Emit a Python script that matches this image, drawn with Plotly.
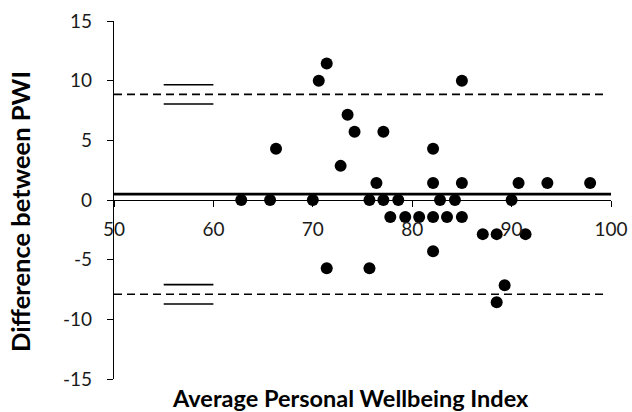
import plotly.graph_objects as go

# Bland-Altman style data
avg_pwi = [62.8, 65.7, 70.0, 75.7, 77.1, 78.6, 82.8, 84.3, 90.0,
           66.3, 70.6, 71.4, 85.0, 73.5, 74.2, 77.1, 82.1, 72.8,
           76.4, 82.1, 85.0, 90.7, 93.6, 97.9,
           77.8, 79.3, 80.7, 82.1, 83.5, 85.0,
           87.1, 88.5, 91.4, 82.1, 71.4, 75.7, 89.3, 88.5]
diff_pwi = [0, 0, 0, 0, 0, 0, 0, 0, 0,
            4.29, 10.0, 11.43, 10.0, 7.14, 5.71, 5.71, 4.29, 2.86,
            1.43, 1.43, 1.43, 1.43, 1.43, 1.43,
            -1.43, -1.43, -1.43, -1.43, -1.43, -1.43,
            -2.86, -2.86, -2.86, -4.29, -5.71, -5.71, -7.14, -8.57]

mean_diff = 0.5
upper_loa = 8.85
lower_loa = -7.9
upper_ci = [9.66, 8.04]
lower_ci = [-7.09, -8.71]
ci_span = [55, 60]
x_range = [50, 100]
y_ticks = [-15, -10, -5, 0, 5, 10, 15]
y_ticktext = ["-15", "-10", "-5", "0", "5", "10", "15"]

fig = go.Figure()

# limits of agreement (dashed)
for v in [upper_loa, lower_loa]:
    fig.add_trace(go.Scatter(x=[50, 99.6], y=[v, v], mode="lines",
                             line=dict(color="black", width=1.6, dash="8px,5px"),
                             hoverinfo="skip"))

# confidence intervals of the limits
for v in upper_ci + lower_ci:
    fig.add_trace(go.Scatter(x=ci_span, y=[v, v], mode="lines",
                             line=dict(color="black", width=1.6), hoverinfo="skip"))

# mean difference
fig.add_trace(go.Scatter(x=x_range, y=[mean_diff, mean_diff], mode="lines",
                         line=dict(color="black", width=2.8), hoverinfo="skip"))

fig.add_trace(go.Scatter(x=avg_pwi, y=diff_pwi, mode="markers",
                         marker=dict(color="black", size=12)))

font = "Lato, 'Open Sans', sans-serif"

fig.update_layout(
    width=632, height=412,
    margin=dict(l=113.5, r=21, t=21, b=33, autoexpand=False),
    plot_bgcolor="white", paper_bgcolor="white",
    showlegend=False,
    font=dict(family=font, size=19, color="#1a1a1a"),
    xaxis=dict(range=x_range, dtick=10, anchor="free", position=0.5,
               showline=True, linecolor="black", linewidth=1.3,
               ticks="outside", ticklen=6, tickcolor="black",
               ticklabelstandoff=6,
               showgrid=False, zeroline=False, automargin=False),
    yaxis=dict(range=[-15, 15], tickvals=y_ticks, ticktext=y_ticktext,
               showline=True, linecolor="black", linewidth=1.3,
               ticks="outside", ticklen=6, tickcolor="black",
               ticklabelstandoff=11,
               showgrid=False, zeroline=False, automargin=False),
    annotations=[
        dict(text="<b>Average Personal Wellbeing Index</b>", xref="paper", yref="paper",
             x=0.476, y=-0.052, xanchor="center", yanchor="middle", showarrow=False,
             font=dict(size=23.5, color="black", family=font)),
        dict(text="<b>Difference between PWI</b>", xref="paper", yref="paper",
             x=-(113.5 - 20) / 497.5, y=0.468, xanchor="center",
             yanchor="middle", textangle=-90, showarrow=False,
             font=dict(size=25.5, color="black", family=font)),
    ],
)

# the page's default body margin would shift the chart by 8px
fig.write_html("out.html", config={"displayModeBar": False},
               post_script="document.body.style.margin='0';")
